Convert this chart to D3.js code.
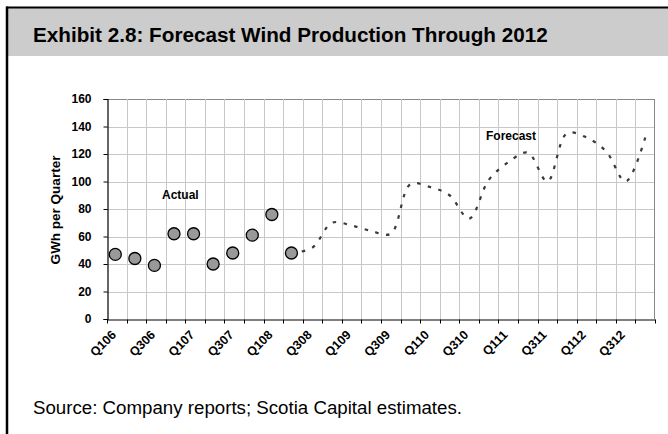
<!DOCTYPE html>
<html><head><meta charset="utf-8">
<script src="https://cdn.jsdelivr.net/npm/d3@7"></script>
<style>body{margin:0;background:#fff}svg{display:block}</style>
</head><body><svg id="c" width="668" height="434"></svg>
<script>
const categories = ["Q106","Q206","Q306","Q406","Q107","Q207","Q307","Q407","Q108","Q208","Q308","Q408",
  "Q109","Q209","Q309","Q409","Q110","Q210","Q310","Q410","Q111","Q211","Q311","Q411","Q112","Q212","Q312","Q412"];
const actualValues = [47,44,39,62,62,40,48,61,76,48];
const forecastStart = 9;
const forecastValues = [48,52,70,68,64,62,98,96,90,73,101,114,121,100,135,132,122,100,132];
const yTicks = [0,20,40,60,80,100,120,140,160];

const svg = d3.select("#c");
const W = 668, H = 434;
const m = {left:107, right:655, top:99, bottom:319};
const font = "Liberation Sans, Arial, sans-serif";

// frame
svg.append("rect").attr("x",8).attr("y",8).attr("width",W-8).attr("height",48).attr("fill","#cccccc");
svg.append("line").attr("x1",6.5).attr("x2",W).attr("y1",7.5).attr("y2",7.5).attr("stroke","#000").attr("stroke-width",2);
svg.append("line").attr("x1",7).attr("x2",7).attr("y1",6.5).attr("y2",H).attr("stroke","#000").attr("stroke-width",2.5);
svg.append("text").attr("x",33).attr("y",42).attr("font-family",font)
  .attr("font-weight","bold").attr("font-size",20.7).attr("fill","#000")
  .text("Exhibit 2.8: Forecast Wind Production Through 2012");

const x = d3.scaleBand().domain(categories).range([m.left,m.right]).padding(0);
const y = d3.scaleLinear().domain([0,160]).range([m.bottom,m.top]);
const cx = c => x(c) + x.bandwidth()/2;

// grid
const g = svg.append("g");
g.selectAll(".hg").data(yTicks.slice(1)).enter().append("line")
  .attr("x1",m.left).attr("x2",m.right).attr("y1",d=>Math.round(y(d))+0.5).attr("y2",d=>Math.round(y(d))+0.5)
  .attr("stroke",d=>d===160?"#888":"#c8c8c8").attr("stroke-width",1);
g.selectAll(".vg").data(categories.slice(1)).enter().append("line")
  .attr("x1",d=>Math.round(x(d))+0.5).attr("x2",d=>Math.round(x(d))+0.5).attr("y1",m.top).attr("y2",m.bottom)
  .attr("stroke","#c8c8c8").attr("stroke-width",1);
g.append("line").attr("x1",m.right-0.5).attr("x2",m.right-0.5).attr("y1",m.top).attr("y2",m.bottom).attr("stroke","#888");

// axes
const yAxis = svg.append("g").attr("transform",`translate(${m.left+0.5},0)`)
  .call(d3.axisLeft(y).tickValues(yTicks).tickSize(4).tickPadding(12));
yAxis.selectAll("text").attr("font-family",font).attr("font-weight","bold").attr("font-size",12).attr("fill","#000");
yAxis.selectAll("line,path").attr("stroke","#000");
yAxis.select("path").attr("stroke-width",1.2);

const xAxis = svg.append("g").attr("transform",`translate(0,${m.bottom+0.5})`)
  .call(d3.axisBottom(x).tickValues([]).tickSizeOuter(0));
xAxis.select("path").attr("stroke","#000").attr("stroke-width",1.2);
const bounds = categories.map(c=>x(c)).concat([m.right]);
xAxis.selectAll(".bt").data(bounds).enter().append("line")
  .attr("x1",d=>Math.round(d)+0.5).attr("x2",d=>Math.round(d)+0.5).attr("y1",0).attr("y2",4).attr("stroke","#000");
xAxis.selectAll(".xl").data(categories.filter((c,i)=>i%2===0)).enter().append("text")
  .attr("transform",d=>`translate(${cx(d)-3},${13}) rotate(-45)`)
  .attr("text-anchor","end").attr("dy","0.35em")
  .attr("font-family",font).attr("font-weight","bold").attr("font-size",12.5).attr("fill","#000")
  .text(d=>d);

// y label
svg.append("text").attr("transform",`translate(60,210) rotate(-90)`).attr("text-anchor","middle")
  .attr("font-family",font).attr("font-weight","bold").attr("font-size",13.5).text("GWh per Quarter");

// forecast line
const fdata = forecastValues.map((v,i)=>({c:categories[forecastStart+i], v}));
const line = d3.line().x(d=>cx(d.c)).y(d=>y(d.v)).curve(d3.curveCatmullRom.alpha(0.5));
svg.append("path").datum(fdata).attr("d",line).attr("fill","none")
  .attr("stroke","#3a3a3a").attr("stroke-width",2.2).attr("stroke-dasharray","3.5,7.5").attr("stroke-dashoffset",-9);

// actual markers
svg.selectAll(".pt").data(actualValues.map((v,i)=>({c:categories[i],v}))).enter().append("circle")
  .attr("cx",d=>cx(d.c)-1.5).attr("cy",d=>y(d.v)).attr("r",6)
  .attr("fill","#999999").attr("stroke","#000").attr("stroke-width",1.3);

svg.append("text").attr("x",162).attr("y",199).attr("font-family",font).attr("font-weight","bold").attr("font-size",12).text("Actual");
svg.append("text").attr("x",486).attr("y",140).attr("font-family",font).attr("font-weight","bold").attr("font-size",12).text("Forecast");

svg.append("text").attr("x",33).attr("y",414).attr("font-family",font).attr("font-size",18.7).attr("fill","#000")
  .text("Source: Company reports; Scotia Capital estimates.");
</script></body></html>
